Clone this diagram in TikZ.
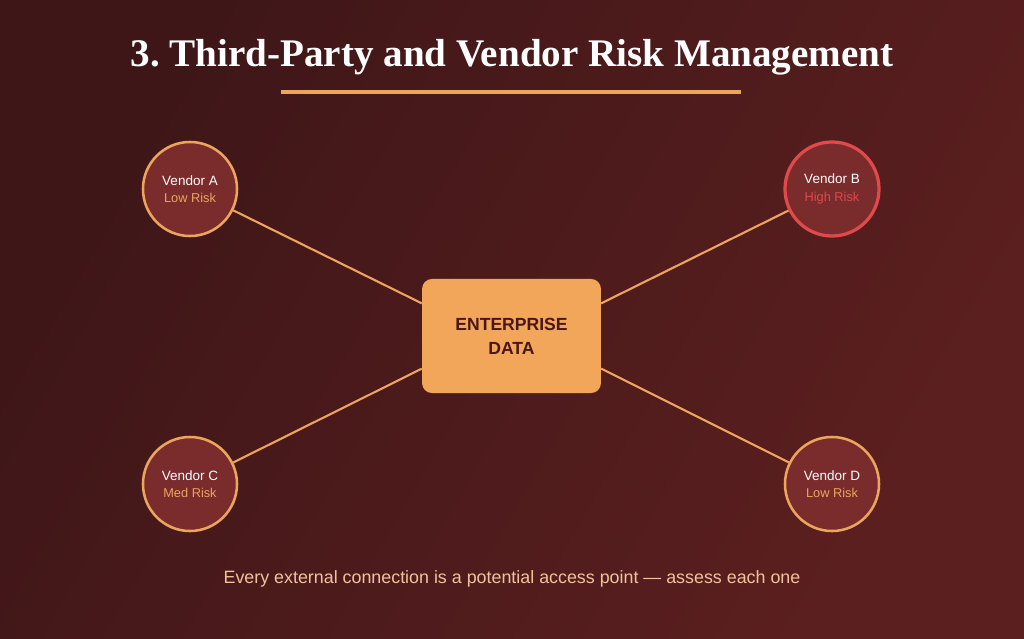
\documentclass[tikz,border=0pt]{standalone}
\usepackage{fontspec}
\setmainfont{Liberation Serif}
\setsansfont{Liberation Sans}
\usepackage{tikz}
\usetikzlibrary{calc}

\definecolor{bgdark}{HTML}{3E1618}
\definecolor{bglight}{HTML}{5C1F1F}
\definecolor{vendorfill}{HTML}{7A2B2C}
\definecolor{accent}{HTML}{EBA55C}
\definecolor{danger}{HTML}{E04A4A}
\definecolor{boxfill}{HTML}{F2A65A}
\definecolor{boxtext}{HTML}{4A1616}
\definecolor{notetext}{HTML}{F1C39A}

\tikzset{
    vendor/.style={circle, draw=accent, line width=1.8pt, fill=vendorfill,
        minimum size=2.35cm, inner sep=0pt, align=center, font=\sffamily},
    link/.style={accent, line width=1.5pt},
}
\frenchspacing

\begin{document}
\begin{tikzpicture}[x=0.025cm, y=-0.025cm]

    %% Background
    \shade[shading=axis, left color=bgdark, right color=bglight, shading angle=60]
        (0,0) rectangle (1024,638);
    \useasboundingbox (0,0) rectangle (1024,638);

    % Title
    \node[white, font=\fontsize{27.8}{32}\selectfont\bfseries] (title) at (512,57)
        {3. Third-Party and Vendor Risk Management};
    \draw[accent, line width=2.2pt] (281,92) to (741,92);

    % Enterprise data
    \node[draw=none, fill=boxfill, rounded corners=7pt, minimum width=4.47cm,
        minimum height=2.85cm, align=center, text=boxtext,
        font=\sffamily\bfseries\fontsize{12.5}{17}\selectfont] (data) at (511.5,336)
        {ENTERPRISE\\DATA};

    % Vendors
    \node[vendor] (vA) at (190,189)
        {\textcolor{white}{\fontsize{9.6}{12}\selectfont Vendor A}\\[0.5pt]
         \textcolor{accent}{\fontsize{9.1}{11}\selectfont Low Risk}};
    \node[vendor, draw=danger, line width=2.3pt] (vB) at (832,189)
        {\textcolor{white}{\fontsize{9.6}{12}\selectfont Vendor B}\\[0.5pt]
         \textcolor{danger}{\fontsize{9.1}{11}\selectfont High Risk}};
    \node[vendor] (vC) at (190,484)
        {\textcolor{white}{\fontsize{9.6}{12}\selectfont Vendor C}\\[0.5pt]
         \textcolor{accent}{\fontsize{9.1}{11}\selectfont Med Risk}};
    \node[vendor] (vD) at (832,484)
        {\textcolor{white}{\fontsize{9.6}{12}\selectfont Vendor D}\\[0.5pt]
         \textcolor{accent}{\fontsize{9.1}{11}\selectfont Low Risk}};

    % Links
    \draw[link] (vA) to (data.160);
    \draw[link] (vB) to (data.20);
    \draw[link] (vC) to (data.200);
    \draw[link] (vD) to (data.-20);

    % Note
    \node[text=notetext, font=\sffamily\fontsize{12.7}{15}\selectfont] (note) at (512,579)
        {Every external connection is a potential access point --- assess each one};

\end{tikzpicture}
\end{document}
